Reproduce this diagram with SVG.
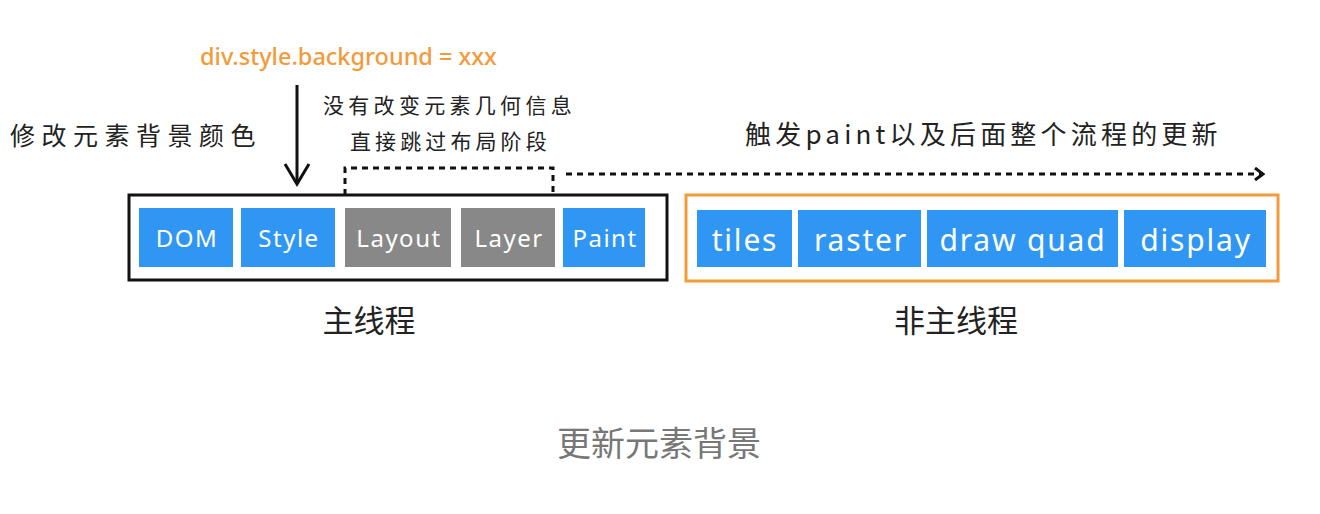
<svg xmlns="http://www.w3.org/2000/svg" width="1320" height="514" viewBox="0 0 1320 514">
<style>
.t{font-family:"Noto Sans CJK SC","Noto Sans",sans-serif;fill:#222}
.b{fill:#2F96F3}
.g{fill:#888888}
.bt{font-family:"Noto Sans","Noto Sans CJK SC",sans-serif;fill:#fff;font-size:24px;text-anchor:middle;letter-spacing:1.5px}
.bt2{font-family:"Noto Sans","Noto Sans CJK SC",sans-serif;fill:#fff;font-size:30px;text-anchor:middle;letter-spacing:1.8px}
.dash{fill:none;stroke:#111;stroke-width:3;stroke-dasharray:6 5}
</style>
<defs>
<marker id="ah" markerWidth="12" markerHeight="14" refX="9" refY="7" orient="auto" markerUnits="userSpaceOnUse">
<path d="M2,1 L10,7 L2,13" fill="none" stroke="#111" stroke-width="3"/>
</marker>
</defs>
<rect width="1320" height="514" fill="#fff"/>
<text x="200" y="65" font-family="Noto Sans, sans-serif" font-size="23.5" font-weight="500" fill="#F39A3A">div.style.background = xxx</text>
<text class="t" x="10" y="145" font-size="25" letter-spacing="6.5">修改元素背景颜色</text>
<text class="t" x="323" y="113" font-size="21" letter-spacing="4.3">没有改变元素几何信息</text>
<text class="t" x="350" y="149" font-size="21" letter-spacing="4.1">直接跳过布局阶段</text>
<text class="t" x="745" y="144" font-size="26" letter-spacing="4.2">触发paint以及后面整个流程的更新</text>
<g id="main-thread">
<rect x="129" y="195" width="538" height="85" fill="none" stroke="#111" stroke-width="3"/>
<g id="dom"><rect class="b" x="139" y="208" width="94" height="59"/><text class="bt" x="187" y="247">DOM</text></g>
<g id="style"><rect class="b" x="241" y="208" width="94" height="59"/><text class="bt" x="289" y="247">Style</text></g>
<g id="layout"><rect class="g" x="345" y="208" width="106" height="59"/><text class="bt" x="399" y="247">Layout</text></g>
<g id="layer"><rect class="g" x="461" y="208" width="94" height="59"/><text class="bt" x="509" y="247">Layer</text></g>
<g id="paint"><rect class="b" x="563" y="208" width="82" height="59"/><text class="bt" x="605" y="247">Paint</text></g>
<text class="t" x="369" y="332" font-size="31" text-anchor="middle">主线程</text>
</g>
<g id="non-main-thread">
<rect x="686" y="195" width="592" height="86" fill="none" stroke="#F39A3A" stroke-width="3"/>
<g id="tiles"><rect class="b" x="697" y="210" width="95" height="57"/><text class="bt2" x="745" y="251">tiles</text></g>
<g id="raster"><rect class="b" x="798" y="210" width="123" height="57"/><text class="bt2" x="861" y="251">raster</text></g>
<g id="drawquad"><rect class="b" x="927" y="210" width="191" height="57"/><text class="bt2" x="1023" y="251">draw quad</text></g>
<g id="display"><rect class="b" x="1124" y="210" width="142" height="57"/><text class="bt2" x="1196" y="251">display</text></g>
<text class="t" x="956" y="332" font-size="31" text-anchor="middle">非主线程</text>
</g>
<g id="connectors">
<path d="M297,85 L297,183" stroke="#111" stroke-width="3" fill="none"/>
<path d="M285,164 L297,184 L309,164" stroke="#111" stroke-width="3" fill="none"/>
<path class="dash" d="M345,195 L345,168 L553,168 L553,195"/>
<path class="dash" d="M566,174 L1262,174" marker-end="url(#ah)"/>
</g>
<text x="659" y="456" font-family="Noto Sans CJK SC, sans-serif" font-size="34" fill="#777" text-anchor="middle">更新元素背景</text>
</svg>
